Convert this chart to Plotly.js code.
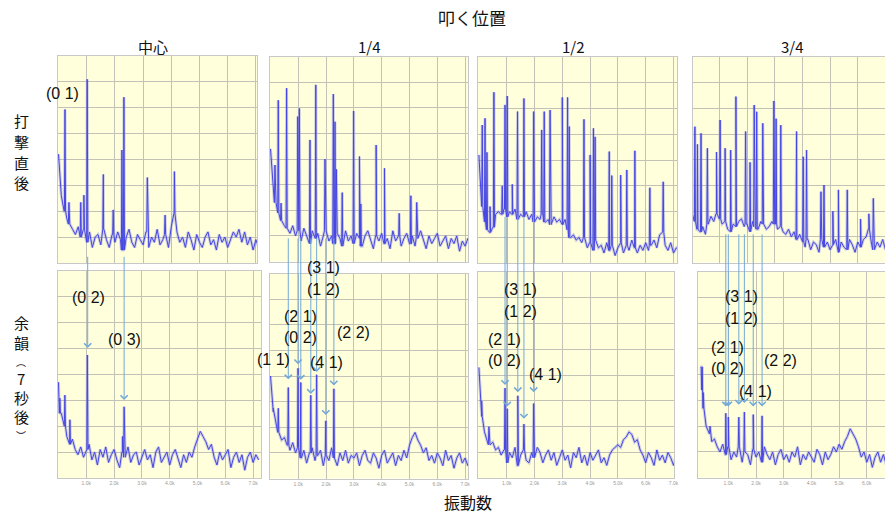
<!DOCTYPE html>
<html><head><meta charset="utf-8">
<script src="https://cdn.plot.ly/plotly-3.0.1.min.js"></script>
<style>html,body{margin:0;padding:0;background:#fff}#chart{width:885px;height:516px}</style>
</head><body><div id="chart"></div>
<script>
// ---------------- data ----------------
const mainTitle = '叩く位置';
const columnTitles = ['中心', '1/4', '1/2', '3/4'];
const rowTitles = [['打', '撃', '直', '後'], ['余', '韻', '︵', '7', '秒', '後', '︶']];
const xTitle = '振動数';
const freqStep = 0.1;            // kHz between noise samples
const freqTicks = [1, 2, 3, 4, 5, 6, 7];
const freqTickLabels = ['1.0k', '2.0k', '3.0k', '4.0k', '5.0k', '6.0k', '7.0k'];

// --- 打撃直後 (just after strike) ---
const noiseCenterHit = [4.2,2.6,2.0,1.7,1.5,1.3,1.1,1.4,1.0,1.3,
 0.8,1.2,0.6,1.0,1.1,0.7,1.3,0.9,0.6,1.1,
 0.8,1.2,0.9,0.5,1.0,1.3,0.8,0.6,1.1,0.9,
 0.7,1.2,0.6,1.0,0.8,1.3,0.7,0.9,1.1,0.6,
 1.4,1.9,1.2,0.8,1.0,0.6,1.2,0.9,0.5,1.1,
 0.8,0.6,1.0,1.2,0.7,0.9,0.5,1.1,0.8,1.0,
 0.6,0.9,1.2,1.0,1.3,0.8,1.2,0.7,1.0,0.5,
 0.9,0.6,0.8];
const peaksCenterHit = [[0.23,5.93],[0.37,2.34],[0.79,2.34],[0.9,2.62],[1.02,7.09],[1.59,3.42],[1.94,2.05],[2.25,4.36],[2.32,6.4],[3.15,3.3],[3.78,1.85],[4.11,3.53]];

const noiseQuarterHit = [4.4,3.0,2.3,1.9,1.6,1.4,1.3,1.1,1.4,1.0,
 1.2,0.8,1.3,1.0,0.7,1.2,0.9,1.1,0.6,1.0,
 1.2,0.8,1.0,0.7,1.1,0.9,0.6,1.2,0.8,1.0,
 0.7,1.1,0.9,0.6,1.0,1.2,0.8,0.5,1.0,0.8,
 1.1,0.7,0.9,0.5,1.2,0.8,1.0,0.6,0.9,1.1,
 0.7,1.0,0.6,0.9,1.2,0.8,0.5,1.0,0.7,0.9,
 1.1,0.6,0.8,1.0,0.5,0.9,0.7,1.0,0.4,0.8,
 0.6,0.9,0.7];
const peaksQuarterHit = [[0.16,3.77],[0.28,6.3],[0.38,2.28],[0.58,6.77],[0.98,5.66],[1.04,5.98],[1.42,4.75],[1.63,6.9],[1.96,4.0],[2.26,6.54],[2.32,5.46],[2.37,3.6],[2.58,2.69],[2.99,5.88],[3.2,4.1],[3.25,2.25],[3.8,4.55],[4.1,3.64],[4.63,1.88],[5.05,2.57],[5.26,2.31]];

const noiseHalfHit = [4.2,2.2,1.6,1.3,1.2,1.4,1.9,2.0,1.9,2.1,
 1.8,2.0,1.9,2.1,1.7,1.9,1.8,2.0,1.7,1.9,
 1.6,1.8,1.7,1.9,1.6,1.7,1.5,1.8,1.6,1.7,
 1.5,1.7,1.3,1.0,1.1,0.9,1.0,0.8,1.0,0.6,
 0.8,0.5,0.9,0.6,0.7,0.4,0.8,0.5,0.7,0.3,
 0.6,0.8,0.4,0.7,0.5,0.9,0.6,0.4,0.7,0.5,
 0.8,0.5,0.7,0.9,0.6,1.1,1.2,0.7,0.5,0.8,
 0.4,0.6,0.5];
const peaksHalfHit = [[0.12,5.36],[0.22,5.62],[0.29,4.3],[0.4,2.2],[0.54,6.63],[0.84,3.0],[0.94,6.14],[1.02,6.48],[1.2,3.06],[1.39,5.88],[1.62,6.39],[1.97,5.88],[2.26,5.17],[2.35,5.88],[2.56,5.94],[3.0,6.43],[3.19,6.43],[3.25,5.3],[3.78,5.58],[4.0,4.2],[4.12,5.23],[4.18,4.9],[4.69,4.33],[4.78,3.4],[5.1,3.42],[5.32,3.62],[5.61,4.36],[6.15,2.93],[6.63,3.16]];

const noiseThreeQHit = [2.0,1.6,1.3,1.2,1.4,1.1,1.5,1.8,1.6,1.9,
 1.7,1.5,1.6,1.3,1.2,1.5,1.4,1.6,1.7,1.4,
 1.5,1.2,1.6,1.4,1.3,1.6,1.5,1.3,1.4,1.6,
 1.5,1.3,1.4,1.2,1.1,1.3,1.0,1.2,0.9,1.1,
 0.8,0.6,0.9,0.5,0.8,0.7,0.4,0.9,0.6,0.8,
 0.5,0.7,0.9,0.4,0.8,0.6,0.5,0.9,0.7,0.4,
 0.8,0.6,0.9,1.0,1.3,0.7,0.5,0.8,0.6,0.9,
 0.5,0.7,0.6];
const peaksThreeQHit = [[0.12,5.29],[0.21,4.6],[0.34,5.03],[0.57,4.45],[0.9,4.3],[1.03,5.55],[1.21,4.45],[1.41,4.38],[1.6,6.46],[1.95,5.1],[2.11,3.9],[2.26,6.13],[2.35,5.87],[2.57,5.42],[2.97,6.29],[3.05,5.6],[3.22,5.35],[3.79,5.1],[4.03,4.12],[4.15,4.38],[4.67,2.76],[4.78,3.02],[5.1,2.0],[5.3,2.83],[5.62,2.83],[6.1,1.7],[6.4,1.9],[6.56,2.5]];

// --- 余韻 (7 s later) ---
const noiseCenterTail = [3.7,2.5,2.0,1.6,1.3,1.5,1.1,0.9,1.2,0.8,
 1.1,1.3,0.7,1.0,0.5,1.1,0.8,1.2,0.6,0.9,
 1.1,0.7,0.4,1.0,0.8,1.2,0.6,0.9,1.0,0.5,
 0.8,1.1,0.7,0.9,0.4,1.0,1.2,0.6,0.8,1.0,
 0.5,0.9,1.1,0.7,0.4,0.9,0.6,1.0,0.8,1.2,
 1.5,1.8,1.6,1.4,1.1,1.3,0.8,0.5,1.0,0.7,
 0.9,1.1,0.4,0.8,1.0,0.6,0.9,0.3,0.8,1.0,
 0.6,0.9,0.7];
const peaksCenterTail = [[0.05,3.08],[0.23,3.2],[0.41,2.25],[1.04,4.75],[2.3,1.6],[2.36,2.75]];

const noiseQuarterTail = [4.0,2.6,2.1,1.8,1.5,1.6,1.3,1.1,1.4,1.0,
 1.2,0.8,1.1,0.6,1.0,1.2,0.7,0.9,1.1,0.5,
 0.9,0.7,1.2,0.8,0.5,1.0,0.7,1.1,0.6,0.9,
 0.8,1.0,0.5,0.9,1.1,0.7,0.6,1.0,0.8,0.4,
 0.9,1.1,0.6,0.8,1.0,0.5,0.9,0.7,1.1,0.8,
 1.3,1.6,1.8,1.5,1.3,1.0,1.2,0.7,0.9,0.6,
 1.0,0.8,0.5,1.1,0.7,0.9,0.4,0.8,1.0,0.6,
 0.8,0.5,0.7];
const peaksQuarterTail = [[0.1,2.74],[0.28,2.74],[0.64,3.55],[0.99,4.3],[1.09,3.75],[1.45,3.25],[1.66,4.05],[1.99,2.25],[2.28,3.5]];

const noiseHalfTail = [4.3,2.4,1.8,1.5,1.3,1.4,1.1,1.2,0.9,1.1,
 0.6,1.0,0.8,1.2,0.5,0.9,1.1,0.7,0.6,1.0,
 0.8,1.2,1.0,0.6,0.9,1.1,0.7,1.0,0.5,0.8,
 1.1,0.7,0.9,0.4,1.0,0.8,1.2,0.6,0.9,0.5,
 1.0,0.7,0.9,1.1,0.6,0.8,0.5,0.9,1.1,1.2,
 1.3,1.2,1.5,1.6,1.8,1.7,1.4,1.5,1.1,0.9,
 0.6,1.0,0.8,0.5,1.1,0.7,0.9,0.6,1.0,0.8,
 0.5,0.9,0.7];
const peaksHalfTail = [[0.1,3.0],[0.36,2.0],[0.94,3.5],[1.02,2.7],[1.40,3.2],[1.62,2.1],[1.97,2.9]];

const noiseThreeQTail = [4.3,2.7,2.0,1.7,1.4,1.5,1.2,1.0,1.3,0.9,
 1.2,0.7,1.0,0.8,1.2,0.6,1.0,0.9,0.5,1.1,
 0.8,1.0,0.6,1.2,0.9,0.7,1.0,0.5,0.9,1.1,
 0.7,0.9,0.6,1.0,0.8,1.2,0.5,0.9,0.7,1.0,
 0.8,0.6,1.1,0.9,0.5,1.0,0.7,0.9,1.2,1.0,
 1.3,1.1,1.4,1.6,1.9,1.7,1.5,1.2,0.8,1.0,
 0.6,0.9,0.4,0.8,1.0,0.6,0.9,0.5,0.8,0.7,
 0.9,0.6,0.8];
const peaksThreeQTail = [[0.04,3.4],[0.1,3.3],[0.34,2.0],[0.91,2.5],[1.0,2.35],[1.38,2.35],[1.58,2.55],[1.9,2.45],[2.22,2.4]];

// mode arrows: [frequency, arrow tip level] per 余韻 panel
const arrowsCenter = [[1.05,5.02],[2.36,3.01]];
const arrowsQuarter = [[0.64,3.87],[0.99,4.46],[1.09,3.85],[1.45,3.30],[1.66,4.16],[1.99,2.48],[2.28,3.63]];
const arrowsHalf = [[0.94,3.62],[1.02,2.78],[1.40,3.34],[1.62,2.31],[1.97,3.34]];
const arrowsThreeQ = [[0.91,2.76],[1.0,2.76],[1.38,2.83],[1.58,2.9],[1.9,2.76],[2.22,2.76]];

// mode labels
const modeLabels = [
  ['(0 1)'],
  ['(0 2)','(0 3)'],
  ['(3 1)','(1 2)','(2 1)','(0 2)','(2 2)','(1 1)','(4 1)'],
  ['(3 1)','(1 2)','(2 1)','(0 2)','(4 1)'],
  ['(3 1)','(1 2)','(2 1)','(0 2)','(2 2)','(4 1)']
];

// ---------------- layout / style ----------------
const W = 885, H = 516;
// pixel boxes of the 8 pasted screenshots: left, right, top, zero line, x-origin px, px per kHz
const boxes = [
  [58, 257, 55.8, 263.0, 58.5, 28.2],
  [270, 468, 56.7, 261.5, 270.5, 27.8],
  [478, 677, 56.9, 263.3, 478.9, 27.8],
  [693, 885, 57.0, 262.6, 691.6, 27.7],
  [58, 261, 270.8, 478.0, 58.5, 27.8],
  [270, 468, 273.5, 478.5, 270.5, 27.8],
  [478, 674, 272.0, 478.3, 478.9, 27.8],
  [698, 885, 271.5, 477.7, 700.6, 27.7]
];
const series = [
  [noiseCenterHit, peaksCenterHit], [noiseQuarterHit, peaksQuarterHit],
  [noiseHalfHit, peaksHalfHit], [noiseThreeQHit, peaksThreeQHit],
  [noiseCenterTail, peaksCenterTail], [noiseQuarterTail, peaksQuarterTail],
  [noiseHalfTail, peaksHalfTail], [noiseThreeQTail, peaksThreeQTail]
];
const arrowSets = {5: arrowsCenter, 6: arrowsQuarter, 7: arrowsHalf, 8: arrowsThreeQ};
const arrowStart = {5: 8.6, 6: 9.43, 7: 10.2, 8: 9.5};
const labelPix = [
  [[62, 93]],
  [[88, 297], [124, 339]],
  [[323, 267], [323, 289], [300, 316], [300, 337], [353, 332], [273, 359], [326, 362]],
  [[520, 289], [520, 311], [504, 339], [504, 360], [545, 374]],
  [[741, 296], [741, 318], [727, 347], [727, 368], [780, 360], [755, 391]]
];
const rowCharY = [[121, 141, 162, 183], [322, 342, 361, 378, 397, 416, 435]];
const rowCharSize = [[15, 15, 15, 15], [15, 15, 10, 15, 15, 15, 10]];

function buildSpectrum(noise, peaks) {
  const pts = noise.map((v, i) => [+(i * freqStep).toFixed(3), v]);
  peaks.forEach(([f, h]) => {
    const idx = Math.min(noise.length - 1, Math.round(f / freqStep));
    const base = noise[idx];
    pts.push([f - 0.02, base], [f, h], [f + 0.02, base]);
  });
  pts.sort((a, b) => a[0] - b[0]);
  return {x: pts.map(p => p[0]), y: pts.map(p => p[1])};
}

const px = (x) => x / W;
const py = (y) => 1 - y / H;

const data = [];
const layout = {
  width: W, height: H,
  margin: {l: 0, r: 0, t: 0, b: 0},
  paper_bgcolor: '#ffffff',
  plot_bgcolor: '#ffffdc',
  showlegend: false,
  font: {family: '"Noto Sans CJK JP", "Noto Sans", sans-serif', color: '#111'},
  title: {text: mainTitle, x: px(472), xanchor: 'center', y: py(19), yanchor: 'middle',
          font: {size: 17, family: '"Noto Sans CJK JP", sans-serif', color: '#111'}},
  annotations: [],
  shapes: []
};

boxes.forEach((b, i) => {
  const n = i + 1;
  const sfx = n === 1 ? '' : String(n);
  const [left, right, top, zero, x0, sx] = b;
  const s = buildSpectrum(series[i][0], series[i][1]);
  // soft halo (like the resampled screenshot) + crisp line
  data.push({
    x: s.x, y: s.y, xaxis: 'x' + sfx, yaxis: 'y' + sfx,
    type: 'scatter', mode: 'lines',
    line: {color: 'rgba(120,120,236,0.35)', width: 3},
    hoverinfo: 'skip'
  });
  data.push({
    x: s.x, y: s.y, xaxis: 'x' + sfx, yaxis: 'y' + sfx,
    type: 'scatter', mode: 'lines',
    line: {color: 'rgb(70,70,226)', width: 1},
    hoverinfo: 'skip'
  });
  const bottomRow = n >= 5;
  layout['xaxis' + sfx] = {
    domain: [px(left), px(right)], anchor: 'y' + sfx,
    range: [(left - x0) / sx, (right - x0) / sx],
    tickmode: 'array', tickvals: freqTicks,
    ticktext: bottomRow ? freqTickLabels : freqTicks.map(() => ''),
    showticklabels: bottomRow,
    tickfont: {size: 5, color: '#9a9a9a', family: 'Liberation Sans'},
    ticks: '', showgrid: true, gridcolor: '#c2c2b6', gridwidth: 1,
    zeroline: false, showline: true, linecolor: '#c8c8c8', linewidth: 1, mirror: true,
    fixedrange: true
  };
  layout['yaxis' + sfx] = {
    domain: [py(zero), py(top)], anchor: 'x' + sfx,
    range: [0, 8], dtick: 1, tick0: 0,
    showticklabels: false, ticks: '',
    showgrid: true, gridcolor: '#c2c2b6', gridwidth: 1,
    zeroline: false, showline: true, linecolor: '#c8c8c8', linewidth: 1, mirror: true,
    fixedrange: true
  };
});

// arrows in 余韻 panels
Object.keys(arrowSets).forEach(k => {
  const n = +k;
  arrowSets[k].forEach(([f, tip]) => {
    layout.annotations.push({
      xref: 'x' + n, yref: 'y' + n, axref: 'x' + n, ayref: 'y' + n,
      x: f, y: tip, ax: f, ay: arrowStart[n],
      text: '', showarrow: true, arrowhead: 4, arrowsize: 1.4, arrowwidth: 1,
      arrowcolor: '#72a9d8', standoff: 0, startstandoff: 0
    });
  });
});

// mode labels
modeLabels.forEach((grp, gi) => {
  grp.forEach((t, j) => {
    const [lx, ly] = labelPix[gi][j];
    layout.annotations.push({
      xref: 'paper', yref: 'paper', x: px(lx), y: py(ly),
      xanchor: 'center', yanchor: 'middle', showarrow: false, text: t,
      font: {size: 16, family: '"Liberation Sans", Arial, sans-serif', color: '#111'}
    });
  });
});

// column titles
const colCenters = [153, 369, 573, 792];
columnTitles.forEach((t, i) => {
  layout.annotations.push({
    xref: 'paper', yref: 'paper', x: px(colCenters[i]), y: py(46),
    xanchor: 'center', yanchor: 'middle', showarrow: false, text: t,
    font: {size: 15, color: '#111'}
  });
});
// row titles (stacked vertically, one character per line)
rowTitles.forEach((chars, i) => {
  chars.forEach((c, j) => {
    layout.annotations.push({
      xref: 'paper', yref: 'paper', x: px(21), y: py(rowCharY[i][j]),
      xanchor: 'center', yanchor: 'middle', showarrow: false, text: c,
      font: {size: rowCharSize[i][j], color: '#111'}
    });
  });
});
// x title
layout.annotations.push({
  xref: 'paper', yref: 'paper', x: px(468), y: py(502),
  xanchor: 'center', yanchor: 'middle', showarrow: false, text: xTitle,
  font: {size: 16, color: '#111'}
});

Plotly.newPlot('chart', data, layout, {staticPlot: true, displayModeBar: false});
</script>
</body></html>
